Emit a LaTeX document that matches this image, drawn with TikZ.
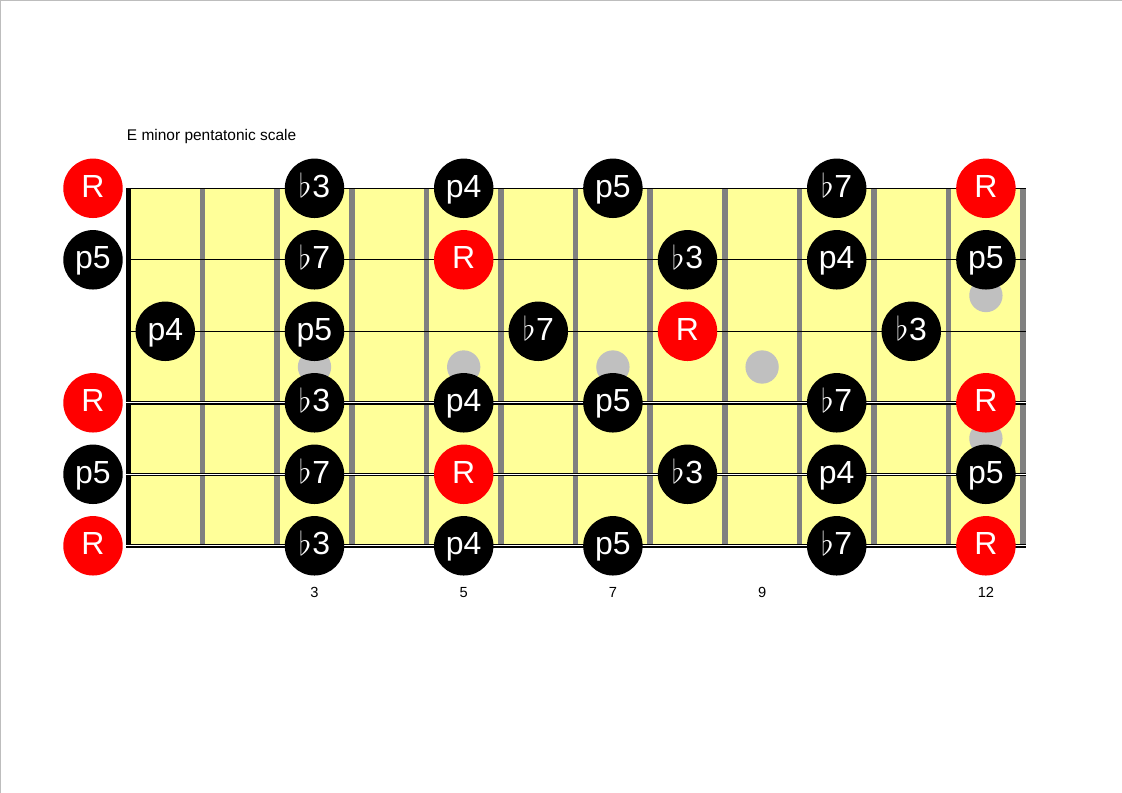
\documentclass[tikz,border=0pt]{standalone}
\usepackage{graphicx}
\usepackage{fontspec}
\setmainfont{Liberation Sans}
\definecolor{board}{HTML}{FFFF99}
\definecolor{fretgray}{HTML}{808080}
\definecolor{dotgray}{HTML}{C0C0C0}
\definecolor{rootred}{HTML}{FF0000}
\definecolor{pageframe}{HTML}{BDBDBD}
\newcommand\fl{\raisebox{-0.5pt}{\resizebox*{!}{18.5pt}{$\flat$}}\kern0.6pt}
\begin{document}
\begin{tikzpicture}[x=0.7504pt,y=-0.7504pt,
  declare function={fx(\n)=(\n==0)*93+(\n>0)*(128+74.6*(\n-0.5)); sy(\s)=188.3+71.5*(\s-1); fw(\n)=128+74.6*\n;},
  notebase/.style={circle,inner sep=0pt,minimum size=44.6pt,text=white,
    font=\fontsize{24}{24}\selectfont,text height=13.4pt,text depth=0pt},
  rootnote/.style={notebase,fill=rootred},
  scalenote/.style={notebase,fill=black},
  inlay/.style={circle,fill=dotgray,inner sep=0pt,minimum size=25pt},
  fretwire/.style={draw=fretgray,line width=4.1pt},
  plainstring/.style={draw=black,line width=0.8pt},
  woundouter/.style={draw=black,line width=2.6pt},
  woundinner/.style={draw=white,line width=1pt},
  smalltext/.style={font=\fontsize{11}{11}\selectfont,inner sep=0pt}]
\useasboundingbox (0,0) rectangle (1122,793);
% page frame
\draw[pageframe,line width=1pt] (0.6,793) -- (0.6,0.6) -- (1122,0.6);
% fretboard
\fill[board] (128,188.3) rectangle (1023.2,545.8);
% frets
\foreach \n in {1,...,12} {
  \draw[fretwire] ({fw(\n)},188.3) -- ({fw(\n)},545.8);
}
% nut
\fill[black] (125.5,188.3) rectangle (131,545.8);
% inlays
\foreach \n in {3,5,7,9} {
  \node[inlay] (dot\n) at ({fx(\n)},367) {};
}
\node[inlay] (dot12a) at ({fx(12)},295.5) {};
\node[inlay] (dot12b) at ({fx(12)},438.5) {};
% strings
\foreach \s in {1,2,3} {
  \coordinate (sl\s) at (127,{sy(\s)});
  \coordinate (sr\s) at (1026,{sy(\s)});
  \draw[plainstring] (sl\s) -- (sr\s);
}
\foreach \s in {4,5,6} {
  \coordinate (sl\s) at (126,{sy(\s)});
  \coordinate (sr\s) at (1026,{sy(\s)});
  \draw[woundouter] (sl\s) -- (sr\s);
  \draw[woundinner] (sl\s) -- (sr\s);
}
% notes
\foreach \s/\f/\t/\k in {
  1/0/R/rootnote, 1/3/\fl3/scalenote, 1/5/p4/scalenote, 1/7/p5/scalenote, 1/10/\fl7/scalenote, 1/12/R/rootnote,
  2/0/p5/scalenote, 2/3/\fl7/scalenote, 2/5/R/rootnote, 2/8/\fl3/scalenote, 2/10/p4/scalenote, 2/12/p5/scalenote,
  3/1/p4/scalenote, 3/3/p5/scalenote, 3/6/\fl7/scalenote, 3/8/R/rootnote, 3/11/\fl3/scalenote,
  4/0/R/rootnote, 4/3/\fl3/scalenote, 4/5/p4/scalenote, 4/7/p5/scalenote, 4/10/\fl7/scalenote, 4/12/R/rootnote,
  5/0/p5/scalenote, 5/3/\fl7/scalenote, 5/5/R/rootnote, 5/8/\fl3/scalenote, 5/10/p4/scalenote, 5/12/p5/scalenote,
  6/0/R/rootnote, 6/3/\fl3/scalenote, 6/5/p4/scalenote, 6/7/p5/scalenote, 6/10/\fl7/scalenote, 6/12/R/rootnote} {
  \node[\k] (n\s f\f) at ({fx(\f)},{sy(\s)}) {\t};
}
% title
\node[smalltext,font=\fontsize{11.6}{11.6}\selectfont,anchor=base west] (title) at (126.7,140.7) {E minor pentatonic scale};
% fret numbers
\foreach \n in {3,5,7,9,12} {
  \node[smalltext,anchor=base] (fn\n) at ({fx(\n)},597.3) {\n};
}
\end{tikzpicture}
\end{document}
